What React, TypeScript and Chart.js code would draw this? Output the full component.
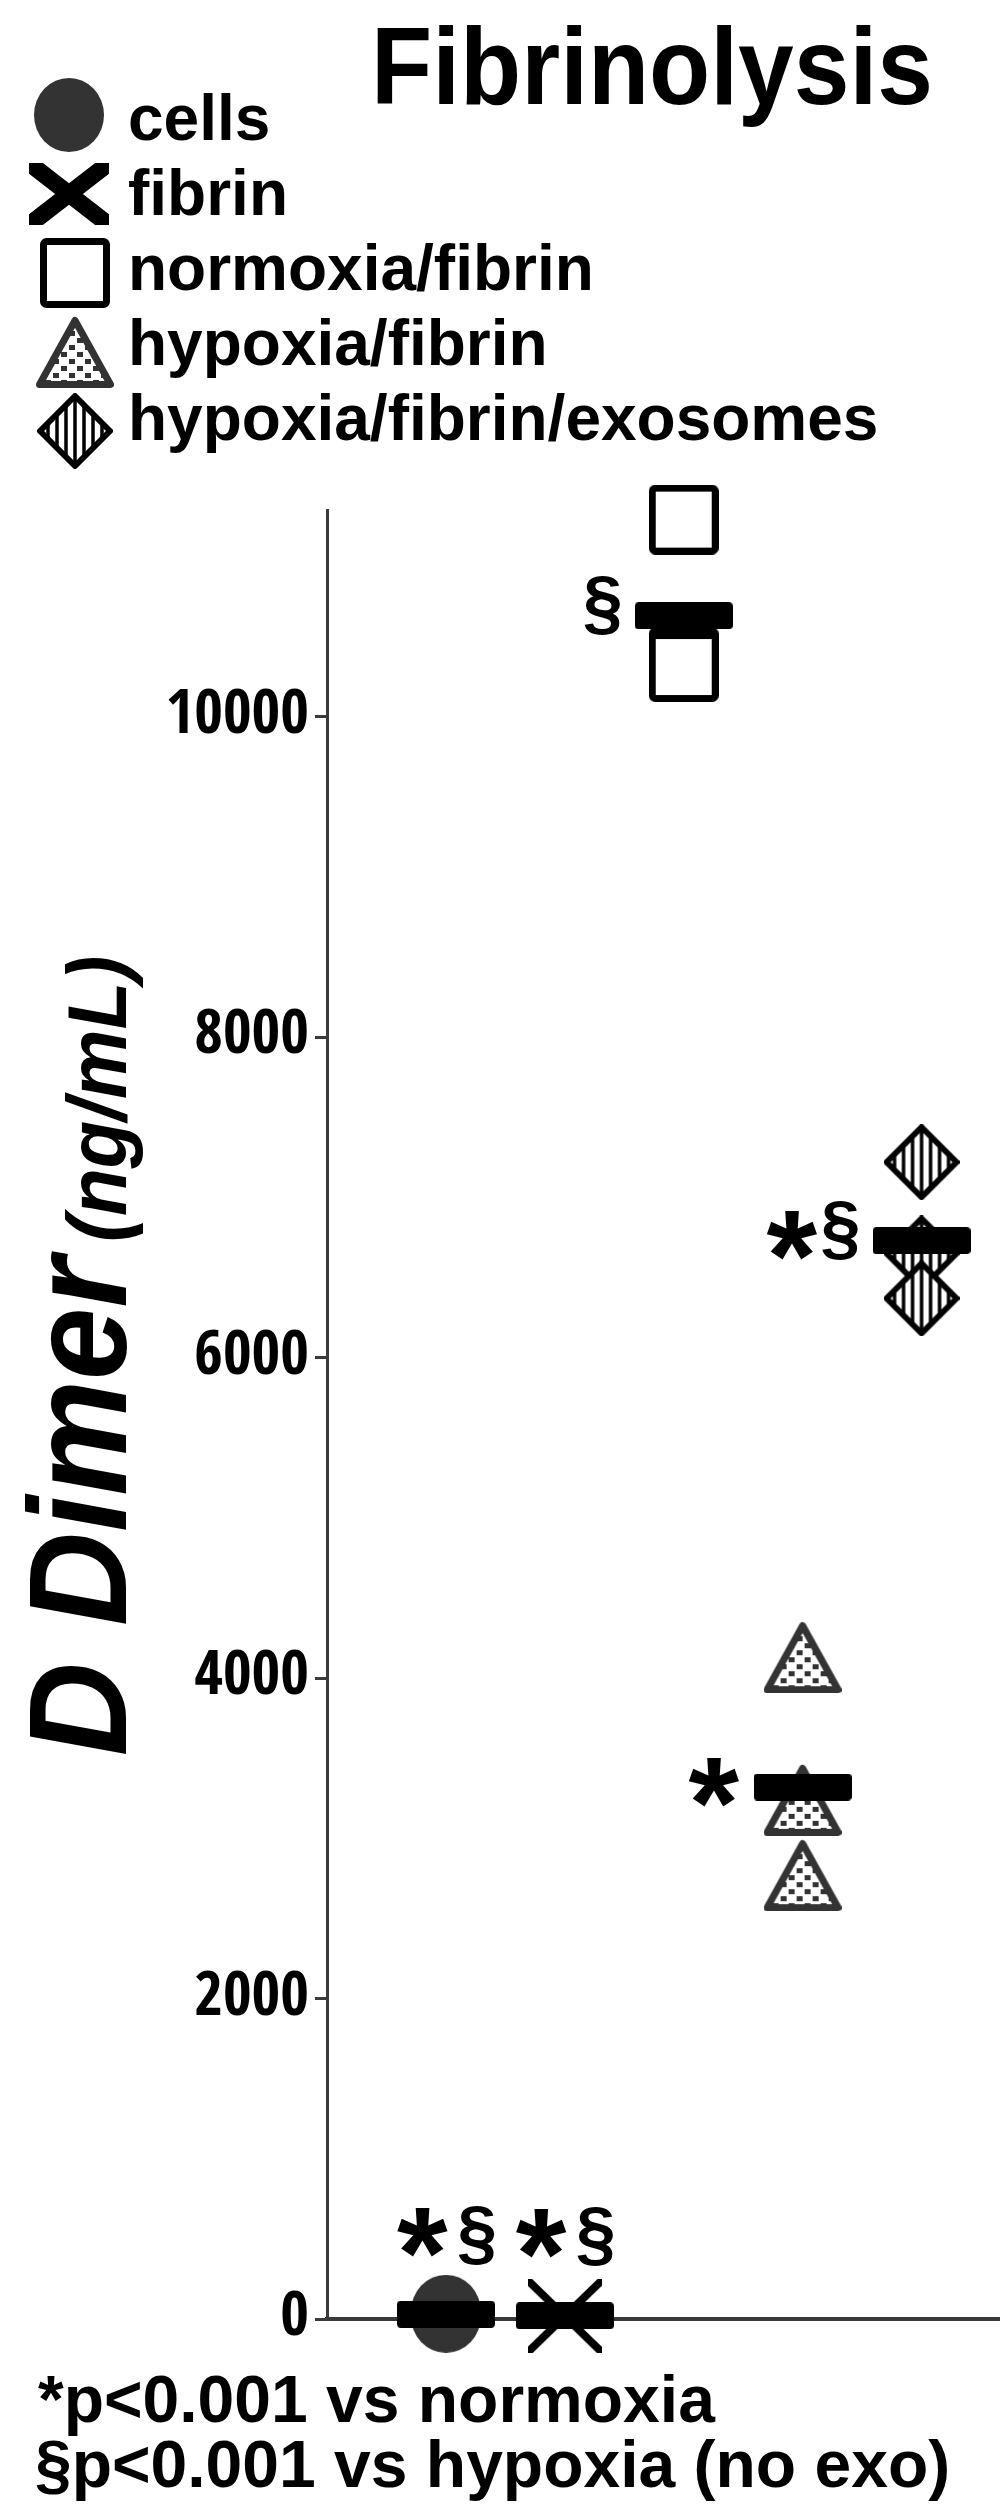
import { useEffect, useRef } from 'react'
import { Chart, registerables } from 'chart.js'

Chart.register(...registerables)

const title = 'Fibrinolysis'
const groups = ['cells', 'fibrin', 'normoxia/fibrin', 'hypoxia/fibrin', 'hypoxia/fibrin/exosomes']
const groupX = [1, 2, 3, 4, 5]
const cellsValues = [30, 20, 45]
const fibrinValues = [15, 25, 10]
const normoxiaValues = [11230, 10340, 10310]
const hypoxiaValues = [4130, 3240, 2770]
const exosomeValues = [7220, 6650, 6370]
const meanValues = [30, 20, 10630, 3320, 6730]
const significance = ['*§', '*§', '§', '*', '*§']
const significanceSide = ['above', 'above', 'left', 'left', 'left']
const yTicks = [0, 2000, 4000, 6000, 8000, 10000]
const yMax = 11290
const xMax = 5.66
const yTitle = 'D Dimer'
const yUnit = '(ng/mL)'
const footnotes = ['*p<0.001 vs normoxia', '§p<0.001 vs hypoxia (no exo)']

const SANS = '"Liberation Sans", Arial, sans-serif'
const CONDENSED = '"Open Sans Condensed", "Liberation Sans", sans-serif'
const AXIS = '#3a3a3a'

function makeCanvas(w: number, h: number) {
  const c = document.createElement('canvas')
  c.width = w
  c.height = h
  return c
}

function circleMarker(w: number, h: number) {
  const c = makeCanvas(w, h)
  const g = c.getContext('2d')!
  g.fillStyle = '#333333'
  g.beginPath()
  g.ellipse(w / 2, h / 2, w / 2, h / 2, 0, 0, Math.PI * 2)
  g.fill()
  return c
}

function crossMarker(w: number, h: number, lw: number) {
  const c = makeCanvas(w, h)
  const g = c.getContext('2d')!
  g.strokeStyle = '#000'
  g.lineWidth = lw
  g.beginPath()
  g.moveTo(0, 0)
  g.lineTo(w, h)
  g.moveTo(w, 0)
  g.lineTo(0, h)
  g.stroke()
  return c
}

function squareMarker(s: number, lw: number) {
  const c = makeCanvas(s, s)
  const g = c.getContext('2d')!
  g.fillStyle = '#fff'
  g.strokeStyle = '#000'
  g.lineWidth = lw
  g.beginPath()
  g.roundRect(lw / 2, lw / 2, s - lw, s - lw, 3)
  g.fill()
  g.stroke()
  return c
}

function triangleMarker(w: number, h: number, lw: number) {
  const tile = makeCanvas(16, 14)
  const tg = tile.getContext('2d')!
  tg.fillStyle = '#333333'
  tg.fillRect(1, 1, 6, 5)
  tg.fillRect(9, 8, 6, 5)
  const c = makeCanvas(w, h)
  const g = c.getContext('2d')!
  g.beginPath()
  g.moveTo(w / 2, lw / 2 + 1)
  g.lineTo(w - lw / 2, h - lw / 2)
  g.lineTo(lw / 2, h - lw / 2)
  g.closePath()
  g.fillStyle = '#fff'
  g.fill()
  g.fillStyle = g.createPattern(tile, 'repeat')!
  g.fill()
  g.strokeStyle = '#333333'
  g.lineWidth = lw
  g.lineJoin = 'round'
  g.stroke()
  return c
}

function diamondMarker(w: number, h: number, lw: number) {
  const c = makeCanvas(w, h)
  const g = c.getContext('2d')!
  g.beginPath()
  g.moveTo(w / 2, lw / 2)
  g.lineTo(w - lw / 2, h / 2)
  g.lineTo(w / 2, h - lw / 2)
  g.lineTo(lw / 2, h / 2)
  g.closePath()
  g.fillStyle = '#fff'
  g.fill()
  g.save()
  g.clip()
  g.fillStyle = '#000'
  for (let d = 0; d < w / 2; d += 9) {
    g.fillRect(w / 2 + d - 1.75, 0, 3.5, h)
    if (d > 0) g.fillRect(w / 2 - d - 1.75, 0, 3.5, h)
  }
  g.restore()
  g.strokeStyle = '#000'
  g.lineWidth = lw
  g.lineJoin = 'round'
  g.stroke()
  return c
}

function barMarker(w: number, h: number) {
  const c = makeCanvas(w, h)
  const g = c.getContext('2d')!
  g.fillStyle = '#000'
  g.beginPath()
  g.roundRect(0, 0, w, h, 4)
  g.fill()
  return c
}

function drawCentered(ctx: CanvasRenderingContext2D, text: string, font: string, cx: number, cy: number) {
  ctx.font = font
  ctx.textAlign = 'left'
  ctx.textBaseline = 'alphabetic'
  const m = ctx.measureText(text)
  const l = m.actualBoundingBoxLeft
  const r = m.actualBoundingBoxRight
  const a = m.actualBoundingBoxAscent
  const d = m.actualBoundingBoxDescent
  ctx.fillText(text, cx - (r - l) / 2, cy + (a - d) / 2)
}

function glyphWidth(ctx: CanvasRenderingContext2D, text: string, font: string) {
  ctx.font = font
  const m = ctx.measureText(text)
  return m.actualBoundingBoxLeft + m.actualBoundingBoxRight
}

const glyphFont = (ch: string) => (ch === '*' ? `bold 130px ${SANS}` : `bold 72px ${SANS}`)

export default function App() {
  const chartRef = useRef<HTMLCanvasElement>(null)

  useEffect(() => {
    document.body.style.margin = '0'
    const canvas = chartRef.current
    if (!canvas) return

    const circle = circleMarker(70, 74)
    const cross = crossMarker(74, 72, 6)
    const square = squareMarker(70, 7)
    const triangle = triangleMarker(78, 72, 7)
    const diamond = diamondMarker(76, 76, 6)
    const bar = barMarker(98, 27)
    const legendCross = crossMarker(80, 62, 17)
    const legendMarkers = [circle, legendCross, square, triangle, diamond]

    const series = [cellsValues, fibrinValues, normoxiaValues, hypoxiaValues, exosomeValues]
    const styles = [circle, cross, square, triangle, diamond]

    const decorations = {
      id: 'decorations',
      afterDraw(chart: Chart) {
        const ctx = chart.ctx
        const xs = chart.scales.x
        const ys = chart.scales.y
        ctx.save()
        ctx.fillStyle = '#000'

        // title
        ctx.save()
        ctx.font = `bold 110px ${SANS}`
        ctx.textAlign = 'center'
        ctx.textBaseline = 'alphabetic'
        ctx.translate(652, 104)
        ctx.scale(0.91, 1)
        ctx.fillText(title, 0, 0)
        ctx.restore()

        // legend
        groups.forEach((name, i) => {
          const m = legendMarkers[i]
          const cy = 115 + i * 79
          const cx = i < 2 ? 69 : 75
          ctx.drawImage(m, cx - m.width / 2, cy - m.height / 2)
          ctx.font = `bold 64px ${SANS}`
          ctx.textAlign = 'left'
          ctx.textBaseline = 'alphabetic'
          ctx.fillText(name, 128, 140 + i * 75)
        })

        // y axis title
        ctx.save()
        ctx.translate(126, 1356)
        ctx.rotate(-Math.PI / 2)
        ctx.scale(0.93, 1)
        ctx.textAlign = 'left'
        ctx.textBaseline = 'alphabetic'
        ctx.font = `italic bold 140px ${SANS}`
        const w1 = ctx.measureText(yTitle).width
        ctx.font = `italic bold 84px ${SANS}`
        const w2 = ctx.measureText(yUnit).width
        const start = -(w1 + 16 + w2) / 2
        ctx.font = `italic bold 140px ${SANS}`
        ctx.fillText(yTitle, start, 0)
        ctx.font = `italic bold 84px ${SANS}`
        ctx.fillText(yUnit, start + w1 + 16, 0)
        ctx.restore()

        // significance marks
        significance.forEach((sig, i) => {
          const px = xs.getPixelForValue(groupX[i])
          const py = ys.getPixelForValue(meanValues[i])
          const glyphs = Array.from(sig)
          const widths = glyphs.map((g) => glyphWidth(ctx, g, glyphFont(g)))
          if (significanceSide[i] === 'above') {
            const total = widths.reduce((s, w) => s + w, 0) + 10 * (glyphs.length - 1)
            let left = px - total / 2
            glyphs.forEach((g, k) => {
              drawCentered(ctx, g, glyphFont(g), left + widths[k] / 2, py + (g === '*' ? -82 : -79))
              left += widths[k] + 10
            })
          } else {
            let right = px - bar.width / 2 - 14
            for (let k = glyphs.length - 1; k >= 0; k--) {
              const g = glyphs[k]
              drawCentered(ctx, g, glyphFont(g), right - widths[k] / 2, py + (g === '*' ? -5 : -10))
              right -= widths[k] + 4
            }
          }
        })

        // footnotes
        ctx.font = `bold 66px ${SANS}`
        ctx.textAlign = 'left'
        ctx.textBaseline = 'alphabetic'
        ctx.fillText(footnotes[0], 38, 2422)
        ctx.fillText(footnotes[1], 35, 2487)
        ctx.restore()
      },
    }

    const chart = new Chart(canvas, {
      type: 'scatter',
      data: {
        datasets: [
          {
            label: 'mean',
            data: meanValues.map((v, i) => ({ x: groupX[i], y: v })),
            pointStyle: bar,
            pointRadius: 1,
            clip: false,
          },
          ...series.map((vals, i) => ({
            label: groups[i],
            data: vals.map((v) => ({ x: groupX[i], y: v })),
            pointStyle: styles[i],
            pointRadius: 1,
            clip: false,
          })),
        ],
      },
      options: {
        animation: false,
        responsive: false,
        events: [],
        layout: {
          autoPadding: false,
          padding: { top: 510, left: 0, right: 0, bottom: 0 },
        },
        plugins: {
          legend: { display: false },
          tooltip: { enabled: false },
        },
        scales: {
          x: {
            type: 'linear',
            min: 0,
            max: xMax,
            grid: { display: false },
            ticks: { display: false },
            border: { display: true, color: AXIS, width: 4 },
            afterFit: (scale) => {
              scale.height = 192
            },
          },
          y: {
            type: 'linear',
            min: 0,
            max: yMax,
            afterBuildTicks: (scale) => {
              scale.ticks = yTicks.map((v) => ({ value: v }))
            },
            afterFit: (scale) => {
              scale.width = 327
            },
            grid: {
              drawOnChartArea: false,
              drawTicks: true,
              tickLength: 12,
              color: AXIS,
              lineWidth: 3,
            },
            border: { display: true, color: AXIS, width: 3 },
            ticks: {
              color: '#000',
              padding: 6,
              font: { family: CONDENSED, size: 62, weight: 'bold' },
              callback: (value) => String(value),
            },
          },
        },
      },
      plugins: [decorations],
    })

    return () => {
      chart.destroy()
    }
  }, [])

  return (
    <canvas
      ref={chartRef}
      width={1000}
      height={2511}
      style={{ display: 'block', width: 1000, height: 2511 }}
    />
  )
}
